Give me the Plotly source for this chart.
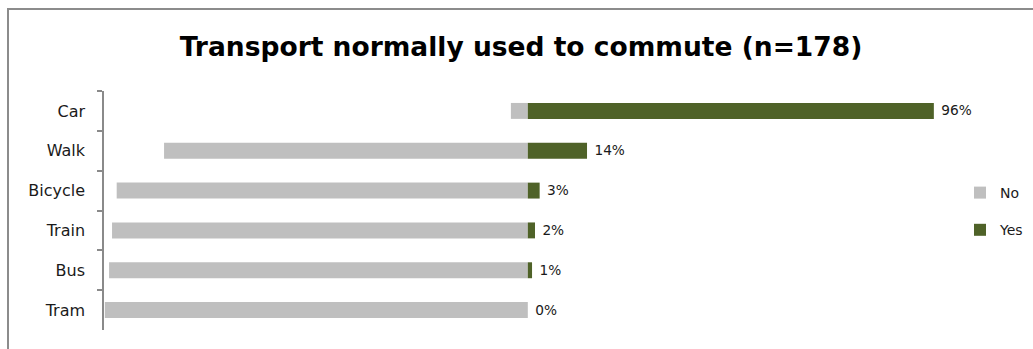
import plotly.graph_objects as go

categories = ["Car", "Walk", "Bicycle", "Train", "Bus", "Tram"]
no_values = [4, 86, 97.2, 98.3, 99, 100]
yes_values = [96, 14, 2.8, 1.7, 1.0, 0]
yes_labels = ["96%", "14%", "3%", "2%", "1%", "0%"]

W, H = 1033, 349
L, R, T, B = 104, 89, 91, 19
pw, ph = W - L - R, H - T - B

fig = go.Figure()
fig.add_trace(go.Bar(
    y=categories, x=[-v for v in no_values], orientation="h", name="No",
    marker=dict(color="#BFBFBF", line=dict(width=0)),
    hoverinfo="skip", legendgroup="no",
))
fig.add_trace(go.Bar(
    y=categories, x=yes_values, orientation="h", name="Yes",
    marker=dict(color="#4F6228", line=dict(width=0)),
    text=[" " + t for t in yes_labels], textposition="outside", cliponaxis=False,
    textfont=dict(family="DejaVu Sans", size=15.5, color="#1a1a1a"),
    hoverinfo="skip", legendgroup="yes",
))

fig.update_layout(
    width=W, height=H,
    margin=dict(l=L, r=R, t=T, b=B, pad=0, autoexpand=False),
    paper_bgcolor="white", plot_bgcolor="white",
    barmode="relative", bargap=0.6,
    title=dict(text="<b>Transport normally used to commute (n=178)</b>",
               x=(521 - L) / pw, xref="paper", xanchor="center",
               y=(H - 47) / H, yanchor="middle",
               font=dict(family="DejaVu Sans", size=26.5, color="#000000")),
    xaxis=dict(range=[-100.2, 98.4], visible=False, fixedrange=True),
    yaxis=dict(categoryorder="array", categoryarray=categories, autorange="reversed",
               showline=True, linecolor="#8a8a8a", linewidth=1.5,
               ticks="outside", tickson="boundaries", ticklen=5, tickcolor="#8a8a8a",
               tickwidth=1.5, ticklabelstandoff=14,
               tickfont=dict(family="DejaVu Sans", size=16, color="#1a1a1a"),
               showgrid=False, zeroline=False),
    legend=dict(x=(960 - L) / pw, xanchor="left", y=(330 - 177) / ph, yanchor="top",
                traceorder="grouped", tracegroupgap=16,
                font=dict(family="DejaVu Sans", size=14, color="#1a1a1a"),
                itemwidth=30, bgcolor="rgba(0,0,0,0)"),
    showlegend=True,
    shapes=[dict(type="rect", xref="paper", yref="paper",
                 x0=(8 - L) / pw, x1=(W + 20 - L) / pw,
                 y0=-0.3, y1=(330 - 9) / ph,
                 line=dict(color="#8c8c8c", width=2), layer="below")],
)

fig.write_html("out.html")
